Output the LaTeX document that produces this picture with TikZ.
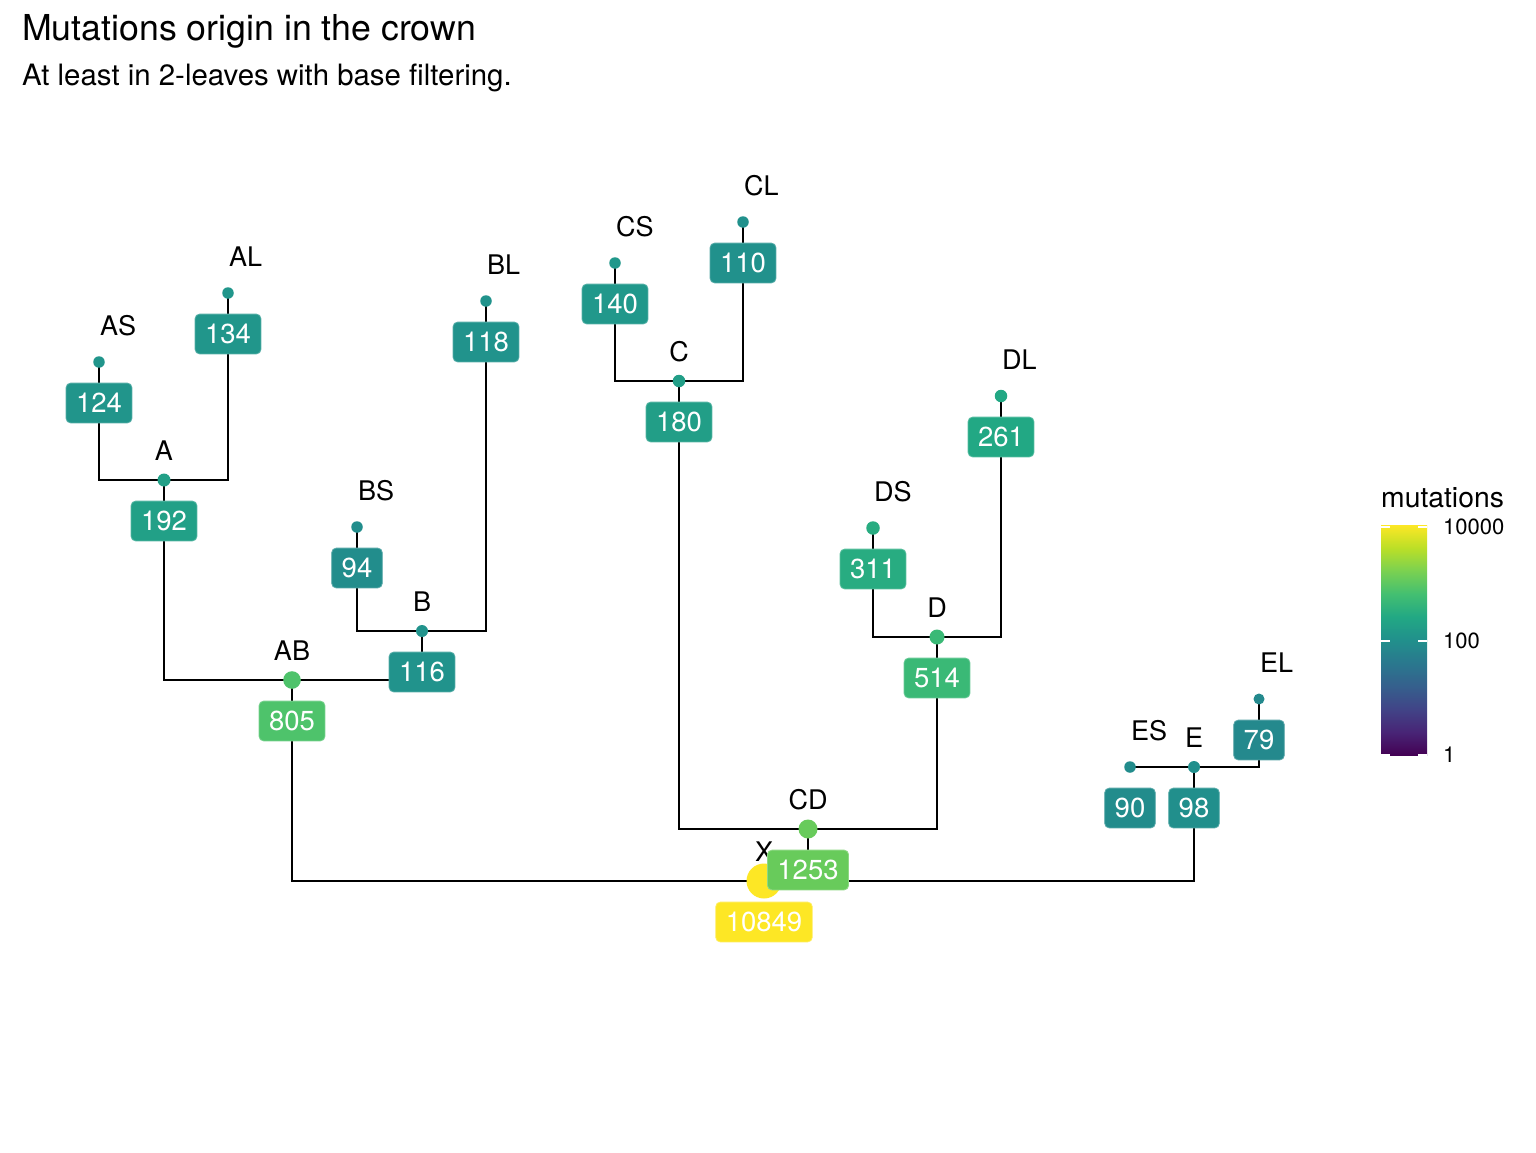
\documentclass[tikz,border=0pt]{standalone}
\usepackage{fontspec}
\setmainfont{TeX Gyre Heros}
\usetikzlibrary{calc}
\definecolor{c79}{HTML}{24898D}
\definecolor{c90}{HTML}{228C8C}
\definecolor{c94}{HTML}{228D8C}
\definecolor{c98}{HTML}{218F8C}
\definecolor{c110}{HTML}{21918C}
\definecolor{c116}{HTML}{21938C}
\definecolor{c118}{HTML}{21938C}
\definecolor{c124}{HTML}{21958B}
\definecolor{c134}{HTML}{21968B}
\definecolor{c140}{HTML}{21988B}
\definecolor{c180}{HTML}{229E87}
\definecolor{c192}{HTML}{22A087}
\definecolor{c261}{HTML}{22A884}
\definecolor{c311}{HTML}{28AC81}
\definecolor{c514}{HTML}{3AB976}
\definecolor{c805}{HTML}{4EC36B}
\definecolor{c1253}{HTML}{68CB5B}
\definecolor{c10849}{HTML}{FDE725}
\definecolor{v0}{HTML}{440154}
\definecolor{v1}{HTML}{482576}
\definecolor{v2}{HTML}{414487}
\definecolor{v3}{HTML}{35608D}
\definecolor{v4}{HTML}{2A788E}
\definecolor{v5}{HTML}{21908C}
\definecolor{v6}{HTML}{22A884}
\definecolor{v7}{HTML}{43BF71}
\definecolor{v8}{HTML}{7AD151}
\definecolor{v9}{HTML}{BBDF27}
\definecolor{v10}{HTML}{FDE725}
\pgfdeclareverticalshading{viridis}{100bp}{color(0bp)=(v0); color(25bp)=(v0); color(30bp)=(v1); color(35bp)=(v2); color(40bp)=(v3); color(45bp)=(v4); color(50bp)=(v5); color(55bp)=(v6); color(60bp)=(v7); color(65bp)=(v8); color(70bp)=(v9); color(75bp)=(v10); color(100bp)=(v10)}
\begin{document}
\begin{tikzpicture}[x=1pt,y=-1pt,
  edge/.style={line width=2.9pt},
  pt/.style={circle,inner sep=0pt,minimum size=#1},
  mbox/.style={fill=#1,draw=#1!75!white,line width=0.8pt,rounded corners=4.5pt,text=white,
     font=\fontsize{27.5}{30}\selectfont,inner xsep=10pt,inner ysep=10pt,text height=19.8pt,text depth=0pt},
  leaflab/.style={anchor=base west,inner sep=0pt,font=\fontsize{27}{30}\selectfont},
  intlab/.style={anchor=base,inner sep=0pt,font=\fontsize{27}{30}\selectfont}]
\useasboundingbox (0,0) rectangle (1536,1152);
\fill[white] (0,0) rectangle (1536,1152);
% title
\node[anchor=base west,inner sep=0pt,font=\fontsize{35.7}{40}\selectfont] (title) at (22,40) {Mutations origin in the crown};
\node[anchor=base west,inner sep=0pt,font=\fontsize{29.4}{34}\selectfont] (subtitle) at (22,85) {At least in 2-leaves with base filtering.};
% node coordinates
\coordinate (X) at (764,881);
\coordinate (AB) at (292,680);
\coordinate (CD) at (808,829);
\coordinate (E) at (1194,767);
\coordinate (A) at (164,480);
\coordinate (B) at (422,631);
\coordinate (C) at (679,381);
\coordinate (D) at (937,637);
\coordinate (AS) at (99,362);
\coordinate (AL) at (228,293);
\coordinate (BS) at (357,527);
\coordinate (BL) at (486,301);
\coordinate (CS) at (615,263);
\coordinate (CL) at (743,222);
\coordinate (DS) at (873,528);
\coordinate (DL) at (1001,396);
\coordinate (ES) at (1130,767);
\coordinate (EL) at (1259,699);
% edges
\draw[edge] (AB) |- (X);
\draw[edge] (CD) |- (X);
\draw[edge] (E) |- (X);
\draw[edge] (A) |- (AB);
\draw[edge] (B) |- (AB);
\draw[edge] (C) |- (CD);
\draw[edge] (D) |- (CD);
\draw[edge] (AS) |- (A);
\draw[edge] (AL) |- (A);
\draw[edge] (BS) |- (B);
\draw[edge] (BL) |- (B);
\draw[edge] (CS) |- (C);
\draw[edge] (CL) |- (C);
\draw[edge] (DS) |- (D);
\draw[edge] (DL) |- (D);
\draw[edge] (ES) -- (E);
\draw[edge] (EL) |- (E);
% points
\node[pt=35pt,fill=c10849] (pX) at (X) {};
\node[pt=17.6pt,fill=c805] (pAB) at (AB) {};
\node[pt=19pt,fill=c1253] (pCD) at (CD) {};
\node[pt=12pt,fill=c98] (pE) at (E) {};
\node[pt=13pt,fill=c192] (pA) at (A) {};
\node[pt=12pt,fill=c116] (pB) at (B) {};
\node[pt=12.5pt,fill=c180] (pC) at (C) {};
\node[pt=15pt,fill=c514] (pD) at (D) {};
\node[pt=11.5pt,fill=c124] (pAS) at (AS) {};
\node[pt=11.5pt,fill=c134] (pAL) at (AL) {};
\node[pt=11.5pt,fill=c94] (pBS) at (BS) {};
\node[pt=11.5pt,fill=c118] (pBL) at (BL) {};
\node[pt=11.5pt,fill=c140] (pCS) at (CS) {};
\node[pt=11.5pt,fill=c110] (pCL) at (CL) {};
\node[pt=13.5pt,fill=c311] (pDS) at (DS) {};
\node[pt=12.5pt,fill=c261] (pDL) at (DL) {};
\node[pt=11.5pt,fill=c90] (pES) at (ES) {};
\node[pt=11pt,fill=c79] (pEL) at (EL) {};
% labels
\node[intlab] (lX) at ($(X)+(0,-20)$) {X};
\node[intlab] (lAB) at ($(AB)+(0,-20)$) {AB};
\node[intlab] (lCD) at ($(CD)+(0,-20)$) {CD};
\node[intlab] (lE) at ($(E)+(0,-20)$) {E};
\node[intlab] (lA) at ($(A)+(0,-20)$) {A};
\node[intlab] (lB) at ($(B)+(0,-20)$) {B};
\node[intlab] (lC) at ($(C)+(0,-20)$) {C};
\node[intlab] (lD) at ($(D)+(0,-20)$) {D};
\node[leaflab] (lAS) at ($(AS)+(1,-27)$) {AS};
\node[leaflab] (lAL) at ($(AL)+(1,-27)$) {AL};
\node[leaflab] (lBS) at ($(BS)+(1,-27)$) {BS};
\node[leaflab] (lBL) at ($(BL)+(1,-27)$) {BL};
\node[leaflab] (lCS) at ($(CS)+(1,-27)$) {CS};
\node[leaflab] (lCL) at ($(CL)+(1,-27)$) {CL};
\node[leaflab] (lDS) at ($(DS)+(1,-27)$) {DS};
\node[leaflab] (lDL) at ($(DL)+(1,-27)$) {DL};
\node[leaflab] (lES) at ($(ES)+(1,-27)$) {ES};
\node[leaflab] (lEL) at ($(EL)+(1,-27)$) {EL};
% boxes
\node[mbox=c10849] (bX) at ($(X)+(0,41)$) {10849};
\node[mbox=c805] (bAB) at ($(AB)+(0,41)$) {805};
\node[mbox=c1253] (bCD) at ($(CD)+(0,41)$) {1253};
\node[mbox=c98] (bE) at ($(E)+(0,41)$) {98};
\node[mbox=c192] (bA) at ($(A)+(0,41)$) {192};
\node[mbox=c116] (bB) at ($(B)+(0,41)$) {116};
\node[mbox=c180] (bC) at ($(C)+(0,41)$) {180};
\node[mbox=c514] (bD) at ($(D)+(0,41)$) {514};
\node[mbox=c124] (bAS) at ($(AS)+(0,41)$) {124};
\node[mbox=c134] (bAL) at ($(AL)+(0,41)$) {134};
\node[mbox=c94] (bBS) at ($(BS)+(0,41)$) {94};
\node[mbox=c118] (bBL) at ($(BL)+(0,41)$) {118};
\node[mbox=c140] (bCS) at ($(CS)+(0,41)$) {140};
\node[mbox=c110] (bCL) at ($(CL)+(0,41)$) {110};
\node[mbox=c311] (bDS) at ($(DS)+(0,41)$) {311};
\node[mbox=c261] (bDL) at ($(DL)+(0,41)$) {261};
\node[mbox=c90] (bES) at ($(ES)+(0,41)$) {90};
\node[mbox=c79] (bEL) at ($(EL)+(0,41)$) {79};
% legend
\node[anchor=base west,inner sep=0pt,font=\fontsize{28.3}{32}\selectfont] (legtitle) at (1381,507) {mutations};
\shade[shading=viridis] (1381,525) rectangle (1427,755);
\foreach \yy in {527,641,755}{
  \draw[white,line width=1.2pt] (1381,\yy) -- (1390,\yy);
  \draw[white,line width=1.2pt] (1418,\yy) -- (1427,\yy);
}
\node[anchor=west,inner sep=0pt,font=\fontsize{22}{26}\selectfont] (t1) at (1443,527) {10000};
\node[anchor=west,inner sep=0pt,font=\fontsize{22}{26}\selectfont] (t2) at (1443,641) {100};
\node[anchor=west,inner sep=0pt,font=\fontsize{22}{26}\selectfont] (t3) at (1443,755) {1};
\end{tikzpicture}
\end{document}
